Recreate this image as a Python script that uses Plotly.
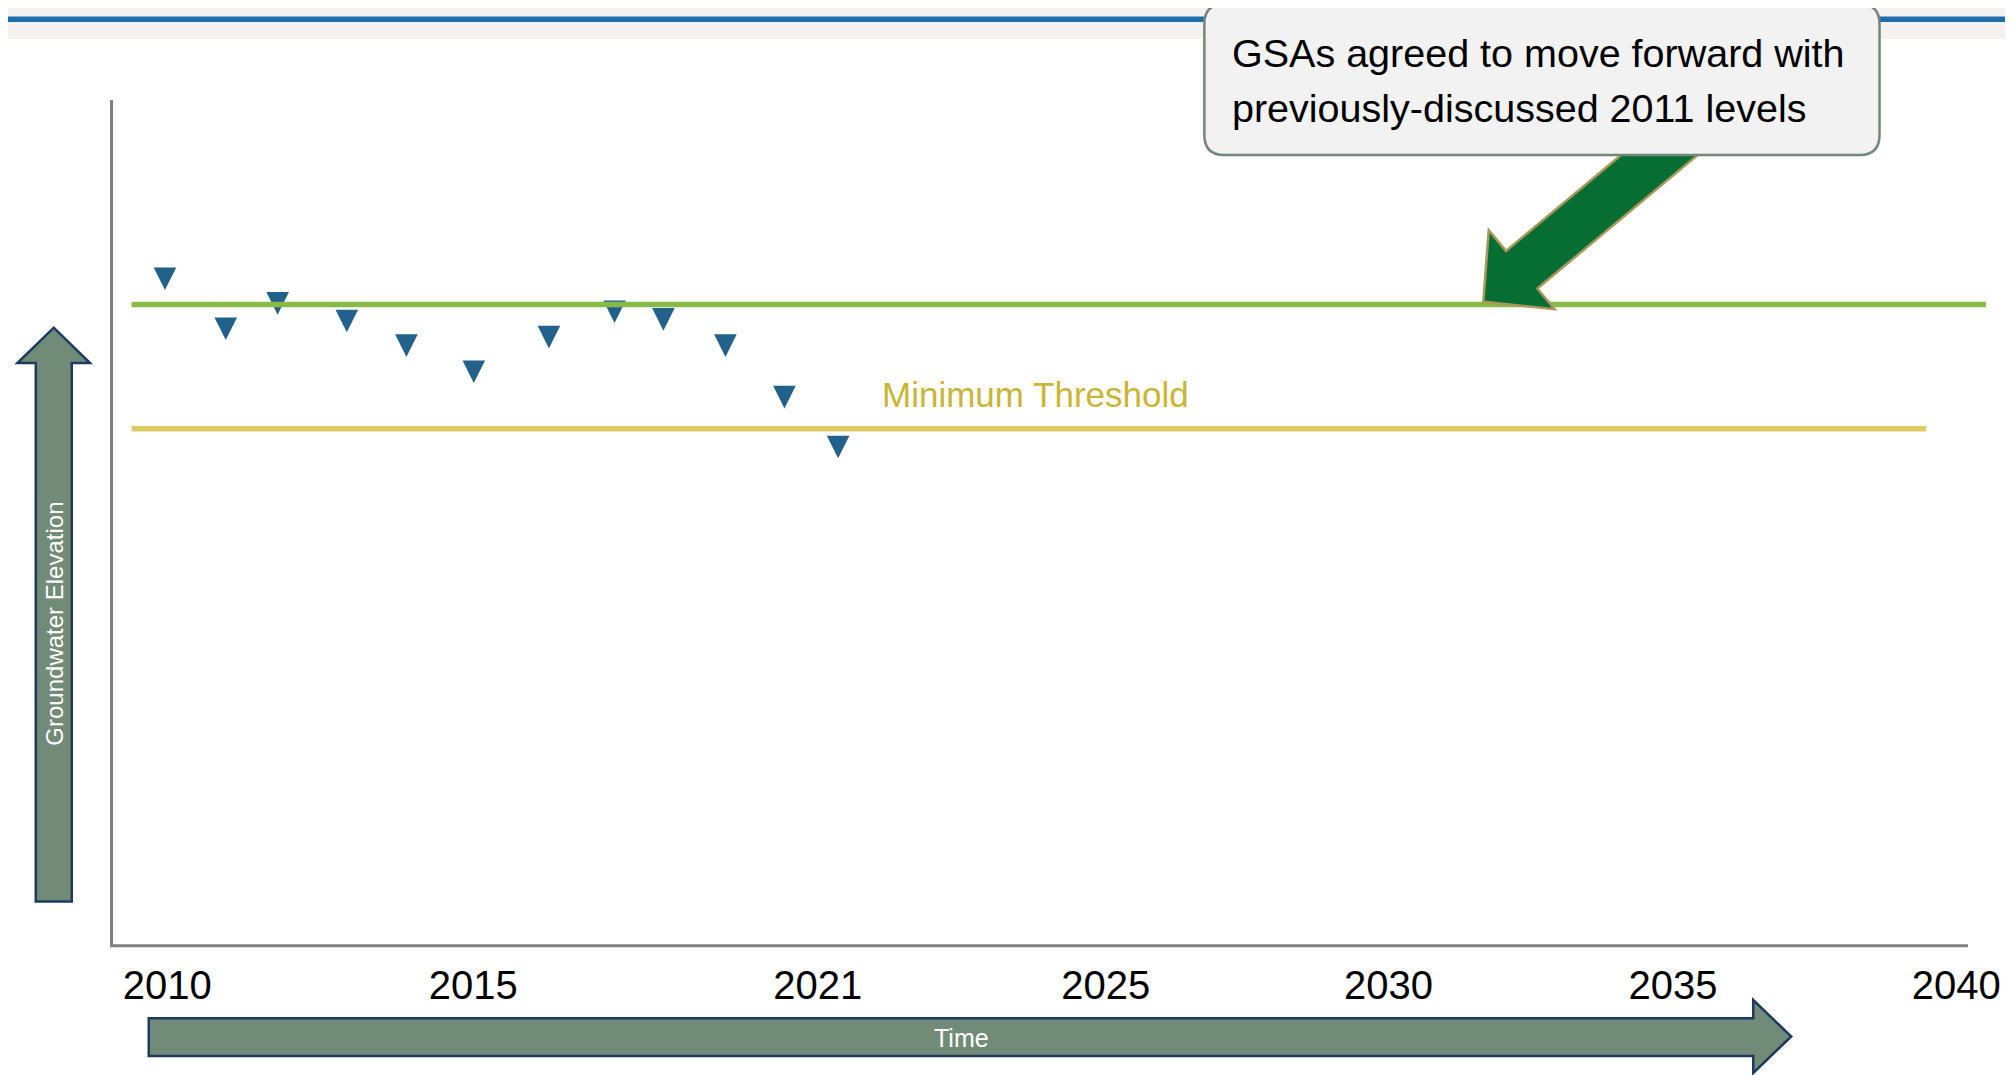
import plotly.graph_objects as go

# ---------------- data ----------------
obs_years = [2009.96, 2010.98, 2011.85, 2013.01, 2014.01, 2015.14,
             2016.40, 2017.50, 2018.32, 2019.36, 2020.35, 2021.25]
obs_elevation = [77.5, 71.6, 74.6, 72.5, 69.6, 66.5,
                 70.6, 73.6, 72.7, 69.6, 63.5, 57.6]

measurable_objective = 75.8          # green line (2011 levels)
minimum_threshold = 61.1             # yellow line
mo_span = [2009.4, 2040.5]
mt_span = [2009.4, 2039.5]

tick_labels = ["2010", "2015", "2021", "2025", "2030", "2035", "2040"]
tick_positions = [2010, 2015.13, 2020.91, 2025.74, 2030.48, 2035.25, 2040]

arrow_target_year = 2032.07
callout_lines = ["GSAs agreed to move forward with",
                 "previously-discussed 2011 levels"]
threshold_label = "Minimum Threshold"
threshold_label_year = 2021.97

# ---------------- layout helpers ----------------
# the page body has an 8px margin, so the figure is 8px smaller than the window
PAGE = 8
W, H = 2013 - PAGE, 1075 - PAGE
L, R, T, B = 113 - PAGE, 21, 100 - PAGE, 130
PW, PH = W - L - R, H - T - B
FONT = "Liberation Sans Narrow, Arial Narrow, Liberation Sans, Arial, sans-serif"


def px(x):          # window x -> paper
    return (x - PAGE - L) / PW


def py(y):          # window y -> paper
    return (H - B - (y - PAGE)) / PH


def poly_paper(points):
    s = "M " + " L ".join(f"{px(x):.5f},{py(y):.5f}" for x, y in points)
    return s + " Z"


fig = go.Figure()

fig.add_trace(go.Scatter(
    x=obs_years, y=obs_elevation, mode="markers",
    marker=dict(symbol="arrow-down", size=22.6, color="#22618c",
                line=dict(width=0)),
    hoverinfo="x+y", showlegend=False, cliponaxis=False))

fig.add_trace(go.Scatter(
    x=mt_span, y=[minimum_threshold] * 2, mode="lines",
    line=dict(color="#dccb66", width=5.5), hoverinfo="skip", showlegend=False))
fig.add_trace(go.Scatter(
    x=mo_span, y=[measurable_objective] * 2, mode="lines",
    line=dict(color="#88ba48", width=5.5), hoverinfo="skip", showlegend=False))

shapes = []
# header band and blue rule
shapes.append(dict(type="rect", xref="paper", yref="paper",
                   x0=px(0), x1=px(2013), y0=py(0), y1=py(38.7),
                   fillcolor="#f4f2f1", line=dict(width=0), layer="below"))
shapes.append(dict(type="rect", xref="paper", yref="paper",
                   x0=px(0), x1=px(2013), y0=py(16.5), y1=py(22),
                   fillcolor="#1f6eab", line=dict(width=0), layer="above"))

# x axis line
shapes.append(dict(type="line", xref="paper", yref="paper",
                   x0=px(110), x1=px(1970), y0=py(945.7), y1=py(945.7),
                   line=dict(color="#808080", width=3)))

# Groundwater Elevation arrow (vertical)
gw_pts = [(35.7, 901.6), (35.7, 363), (17.3, 363), (53.7, 327.7),
          (90, 363), (71.7, 363), (71.7, 901.6)]
shapes.append(dict(type="path", xref="paper", yref="paper",
                   path=poly_paper(gw_pts), fillcolor="#728a78",
                   line=dict(color="#1c3b5e", width=2.5)))

# Time arrow (horizontal)
t_pts = [(148.8, 1018.3), (1755, 1018.3), (1755, 1000), (1793, 1036.5),
         (1755, 1073), (1755, 1056), (148.8, 1056)]
shapes.append(dict(type="path", xref="paper", yref="paper",
                   path=poly_paper(t_pts), fillcolor="#728a78",
                   line=dict(color="#1c3b5e", width=2.5)))

# green block arrow pointing at the objective line (pixel geometry around tip)
U = (0.7683, -0.640)
V = (0.640, 0.7683)
local = [(0, 0), (50, 51.5), (50, 24.5), (285, 24.5), (285, -24.5),
         (50, -24.5), (50, -51.5)]
tip_shift = -2.8
seg = []
for u, v in local:
    dx = u * U[0] + v * V[0]
    dy = u * U[1] + v * V[1] + tip_shift
    seg.append(f"{dx:.2f},{-dy:.2f}")
arrow_path = "M " + " L ".join(seg) + " Z"
shapes.append(dict(type="path", xref="x", yref="y",
                   xsizemode="pixel", ysizemode="pixel",
                   xanchor=arrow_target_year, yanchor=measurable_objective,
                   path=arrow_path, fillcolor="#066d33",
                   line=dict(color="#a8995a", width=2.5), layer="above"))

# rounded callout box
x0, x1, y0, y1, r = 1205.5, 1881.4, 4, 155, 20


def P(x, y):
    return f"{px(x):.5f},{py(y):.5f}"


box = (f"M {P(x0 + r, y0)} L {P(x1 - r, y0)} Q {P(x1, y0)} {P(x1, y0 + r)} "
       f"L {P(x1, y1 - r)} Q {P(x1, y1)} {P(x1 - r, y1)} "
       f"L {P(x0 + r, y1)} Q {P(x0, y1)} {P(x0, y1 - r)} "
       f"L {P(x0, y0 + r)} Q {P(x0, y0)} {P(x0 + r, y0)} Z")
shapes.append(dict(type="path", xref="paper", yref="paper", path=box,
                   fillcolor="#f2f2f2", line=dict(color="#74877a", width=2.5),
                   layer="above"))

annotations = []
for txt, yc in zip(callout_lines, [53, 108]):
    annotations.append(dict(
        text=txt, xref="paper", yref="paper", x=px(1232), y=py(yc),
        xanchor="left", yanchor="middle", showarrow=False, borderpad=0,
        font=dict(family=FONT, size=39.5, color="#000000")))

annotations.append(dict(
    text=threshold_label, xref="x", yref="y", x=threshold_label_year,
    y=minimum_threshold, xanchor="left", yanchor="middle", yshift=34.4,
    showarrow=False, borderpad=0,
    font=dict(family=FONT, size=35, color="#c9b536")))

annotations.append(dict(
    text="Groundwater Elevation", xref="paper", yref="paper",
    x=px(54.3), y=py(623.3), xanchor="center", yanchor="middle",
    textangle=-90, showarrow=False,
    font=dict(family=FONT, size=24, color="#ffffff")))
annotations.append(dict(
    text="Time", xref="paper", yref="paper",
    x=px(962.5), y=py(1038), xanchor="center", yanchor="middle",
    showarrow=False, font=dict(family=FONT, size=25, color="#ffffff")))

fig.update_layout(
    width=W, height=H,
    margin=dict(l=L, r=R, t=T, b=B, pad=0),
    paper_bgcolor="#ffffff", plot_bgcolor="#ffffff",
    shapes=shapes, annotations=annotations,
    xaxis=dict(range=[2009.089, 2040.568], showgrid=False, zeroline=False,
               showline=False, ticks="", tickmode="array",
               tickvals=tick_positions, ticktext=tick_labels,
               tickfont=dict(family=FONT, size=40, color="#000000"),
               ticklabelstandoff=13, fixedrange=True),
    yaxis=dict(range=[0, 100], showgrid=False, zeroline=False,
               showline=True, linecolor="#808080", linewidth=3,
               showticklabels=False, ticks="", fixedrange=True),
    showlegend=False,
)

fig.write_html("out.html")
